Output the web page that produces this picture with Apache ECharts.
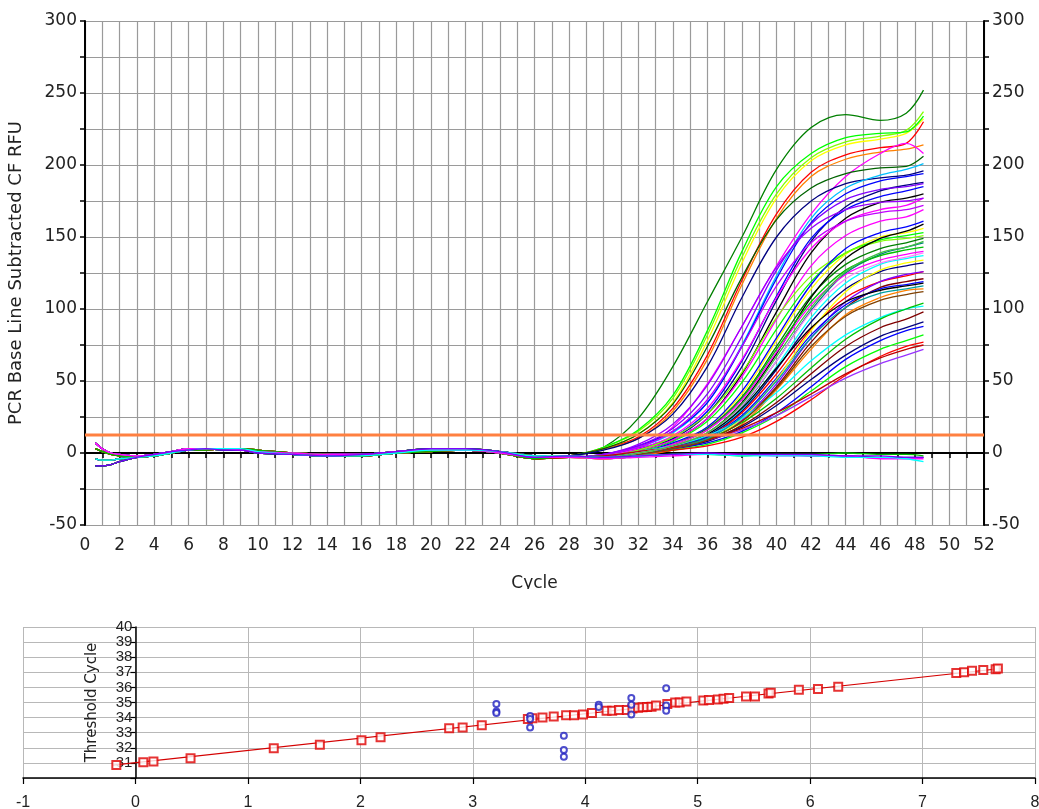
<!DOCTYPE html>
<html><head><meta charset="utf-8">
<script src="https://cdn.jsdelivr.net/npm/echarts@6/dist/echarts.min.js"></script>
<style>html,body{margin:0;padding:0;background:#fff}#c{width:1039px;height:809px}</style>
</head><body><div id="c"></div>
<script>
// ---------- Top chart: amplification curves ----------
const baseCycles = [0.6, 1, 1.5, 2, 3, 4, 5, 6, 7, 8, 9, 10, 12, 14, 16, 18, 20, 22, 24, 26];
const baseline0 = [7, 3, 0, -1, -2, -1, 1, 3, 3, 3, 2, 1, 0, -1, -1, 1, 2, 2, 0, -3];
const baseline1 = [-4, -5, -5, -4, -3, -2, 0, 2, 3, 3, 3, 1, -1, -2, -2, 0, 2, 2, 1, -2];
const baseline2 = [-9, -9, -8, -6, -3, -1, 1, 2, 3, 2, 2, 0, -1, -2, -1, 1, 3, 3, 1, -3];
const baseline3 = [3, 1, -1, -2, -3, -2, 0, 2, 2, 3, 3, 2, 0, -1, -2, 0, 1, 2, 0, -4];
const riseCycles = [28, 30, 32, 34, 36, 38, 40, 42, 44, 46, 47.5, 48.5];
const curveColors = [
  '#008000','#80ff00','#ffff00','#00ff00','#ff0000','#ff8000','#ff00ff','#006400','#000080','#00c0ff',
  '#0000ff','#000080','#0000ff','#000000','#8000ff','#ff00ff','#c000ff','#ff00ff','#9900ff','#ffff00',
  '#00ff00','#008000','#008080','#80ff00','#000000','#0000ff','#00c000','#00ffff','#ff00ff','#000080',
  '#ff0000','#800000','#8000ff','#0000ff','#ff8000','#ffff00','#000000','#00ffff','#00c000','#800000',
  '#000080','#0000ff','#00ff00','#ff0000','#9933ff','#c00000','#00a0a0','#804000','#ff80ff','#40c040',
  '#000080','#00c000','#ff00ff','#00ffff','#8000ff'
];
const curveValues = [
  [-2, 4, 24, 60, 105, 150, 197, 226, 235, 231, 236, 252],
  [-2, 4, 15, 38, 82, 136, 180, 205, 216, 220, 224, 237],
  [-2, 3, 13, 35, 78, 132, 177, 203, 214, 218, 222, 232],
  [-2, 4, 16, 40, 85, 140, 185, 208, 219, 222, 223, 234],
  [-2, 3, 11, 31, 68, 120, 166, 195, 207, 212, 215, 230],
  [-2, 3, 10, 29, 65, 117, 163, 192, 204, 209, 211, 214],
  [-3, -2, 3, 18, 48, 88, 130, 166, 192, 208, 215, 208],
  [-2, 3, 13, 34, 74, 122, 162, 184, 194, 198, 199, 206],
  [-2, 2, 10, 27, 60, 108, 150, 175, 187, 191, 193, 196],
  [-3, -2, 4, 14, 35, 75, 123, 163, 184, 193, 197, 201],
  [-3, -1, 5, 15, 35, 74, 121, 160, 180, 189, 192, 194],
  [-3, -2, 3, 10, 27, 60, 106, 147, 171, 182, 186, 188],
  [-3, -2, 3, 11, 29, 64, 109, 149, 169, 178, 182, 185],
  [-3, -2, 2, 9, 24, 55, 98, 139, 163, 174, 177, 180],
  [-3, -1, 5, 17, 41, 81, 127, 159, 176, 183, 185, 187],
  [-3, -2, 3, 12, 31, 65, 108, 142, 161, 169, 172, 177],
  [-3, -1, 4, 15, 37, 74, 116, 146, 161, 167, 169, 172],
  [-3, -2, 2, 9, 24, 53, 93, 130, 151, 161, 164, 169],
  [-3, -1, 6, 20, 47, 88, 129, 156, 169, 174, 175, 177],
  [-3, -3, 0, 6, 18, 41, 78, 114, 138, 150, 153, 156],
  [-3, -3, 1, 8, 22, 49, 86, 119, 139, 148, 151, 153],
  [-3, -3, 0, 6, 17, 39, 74, 109, 131, 142, 146, 149],
  [-3, -3, -1, 4, 13, 32, 64, 99, 125, 138, 143, 146],
  [-3, -2, 2, 11, 27, 56, 94, 123, 139, 147, 149, 151],
  [-3, -3, -1, 5, 14, 35, 69, 108, 135, 149, 154, 159],
  [-3, -3, 0, 7, 18, 43, 80, 117, 142, 153, 157, 161],
  [-3, -3, 0, 6, 16, 38, 72, 105, 127, 137, 141, 143],
  [-3, -3, -1, 4, 12, 30, 60, 94, 118, 131, 135, 137],
  [-3, -3, 0, 6, 16, 37, 70, 103, 124, 134, 138, 140],
  [-3, -3, -1, 4, 12, 29, 58, 91, 114, 126, 130, 132],
  [-3, -3, -1, 4, 11, 28, 55, 86, 108, 119, 123, 126],
  [-3, -4, -2, 2, 9, 22, 46, 77, 101, 115, 119, 121],
  [-3, -4, -2, 3, 9, 23, 48, 80, 105, 119, 124, 126],
  [-3, -3, -1, 4, 11, 26, 52, 82, 103, 114, 117, 119],
  [-3, -4, -2, 2, 8, 20, 44, 72, 96, 108, 113, 114],
  [-3, -4, -1, 3, 9, 24, 51, 85, 112, 127, 132, 134],
  [-3, -3, -1, 5, 13, 31, 59, 87, 105, 113, 116, 118],
  [-3, -2, 1, 5, 12, 24, 42, 64, 82, 94, 100, 102],
  [-3, -2, 0, 4, 10, 21, 38, 59, 79, 93, 100, 104],
  [-3, -3, 0, 4, 9, 19, 35, 55, 74, 87, 93, 98],
  [-3, -3, 0, 3, 8, 18, 33, 51, 68, 81, 87, 91],
  [-3, -3, 0, 3, 7, 15, 28, 46, 65, 78, 85, 88],
  [-3, -3, 0, 2, 6, 14, 26, 43, 60, 72, 78, 82],
  [-3, -3, -1, 2, 5, 11, 22, 37, 54, 67, 74, 77],
  [-3, -2, 1, 4, 9, 16, 26, 39, 52, 62, 68, 72],
  [-3, -2, 1, 4, 9, 17, 28, 41, 55, 66, 72, 75],
  [-3, -3, -1, 3, 10, 25, 50, 80, 101, 111, 114, 116],
  [-3, -3, -1, 3, 9, 22, 45, 74, 95, 106, 110, 112],
  [-3, -3, 0, 5, 14, 33, 64, 98, 121, 132, 136, 139],
  [-3, -3, 0, 5, 14, 34, 67, 101, 126, 139, 143, 147],
  [-2, -3, -2, -1, -1, -1, -1, -2, -2, -3, -3, -3],
  [-2, -3, -2, -1, -1, -2, -1, -1, 0, -1, -1, -2],
  [-3, -4, -3, -2, -1, -1, -2, -2, -2, -4, -4, -4],
  [-2, -3, -2, -1, -1, -2, -2, -2, -3, -3, -4, -6],
  [-2, -3, -2, -1, 0, -1, -1, -1, -2, -2, -3, -3]
];
const thresholdRFU = 12.5;
const cycleRange = [0, 52];

// ---------- Bottom chart: standard curve ----------
const stdLogQty = [-0.17, 0.07, 0.16, 0.49, 1.23, 1.64, 2.01, 2.18, 2.79, 2.91, 3.08, 3.49, 3.53, 3.62, 3.72, 3.83, 3.9, 3.98, 4.06,
  4.19, 4.24, 4.3, 4.37, 4.42, 4.47, 4.51, 4.55, 4.59, 4.63, 4.73, 4.8, 4.84, 4.9, 5.05, 5.1, 5.18, 5.23, 5.28, 5.43, 5.51,
  5.63, 5.65, 5.9, 6.07, 6.25, 7.3, 7.37, 7.44, 7.54, 7.65, 7.67];
const stdCt = [30.86, 31.05, 31.1, 31.3, 31.97, 32.2, 32.5, 32.7, 33.3, 33.35, 33.5, 33.9, 33.95, 34.0, 34.07, 34.15, 34.15, 34.2, 34.3,
  34.45, 34.45, 34.5, 34.5, 34.6, 34.65, 34.68, 34.7, 34.72, 34.8, 34.9, 35.0, 35.0, 35.06, 35.13, 35.16, 35.2, 35.25, 35.3, 35.4, 35.4,
  35.6, 35.65, 35.85, 35.9, 36.05, 36.95, 37.0, 37.1, 37.15, 37.2, 37.25];
const fitLogQty = [-0.2, 7.7];
const fitCt = [30.85, 37.25];
const unkLogQty = [3.21, 3.21, 3.21, 3.51, 3.51, 3.51, 3.81, 3.81, 3.81, 4.12, 4.12, 4.41, 4.41, 4.41, 4.72, 4.72, 4.72];
const unkCt = [34.9, 34.4, 34.3, 34.1, 33.9, 33.35, 32.8, 31.85, 31.4, 34.85, 34.7, 35.3, 34.85, 34.2, 35.95, 34.8, 34.45];

const baselines = [baseline0, baseline1, baseline2, baseline3];
const series = [];
curveValues.forEach((vals, i) => {
  const b = baselines[i % 4];
  const data = baseCycles.map((c, k) => [c, b[k]]).concat(riseCycles.map((c, k) => [c, vals[k]]));
  series.push({type: 'line', xAxisIndex: 0, yAxisIndex: 0, data, showSymbol: false, smooth: 0.35,
    lineStyle: {width: 1.3, color: curveColors[i]}, itemStyle: {color: curveColors[i]}, silent: true, z: 2});
});
series.push({type: 'line', xAxisIndex: 0, yAxisIndex: 0, data: cycleRange.map(c => [c, thresholdRFU]), showSymbol: false,
  lineStyle: {width: 3, color: '#ff8040'}, silent: true, z: 5});
series.push({type: 'line', xAxisIndex: 1, yAxisIndex: 2, data: fitLogQty.map((x, i) => [x, fitCt[i]]), showSymbol: false,
  lineStyle: {width: 1.2, color: '#d40000'}, silent: true, z: 3});
series.push({type: 'scatter', xAxisIndex: 1, yAxisIndex: 2, data: stdLogQty.map((x, i) => [x, stdCt[i]]), symbol: 'emptyRect',
  symbolSize: 8, itemStyle: {color: '#e00000', borderWidth: 1.3}, silent: true, z: 4});
series.push({type: 'scatter', xAxisIndex: 1, yAxisIndex: 2, data: unkLogQty.map((x, i) => [x, unkCt[i]]), symbol: 'emptyCircle',
  symbolSize: 6, itemStyle: {color: '#2020c0', borderWidth: 1.3}, silent: true, z: 4});

const FT = 'DejaVu Sans';
const lbl = {color: '#222', fontSize: 17, fontFamily: FT};
const bottomLeft = 23, bottomRight = 4, bottomXMin = -1, bottomXMax = 8;
const bottomAxisShift = (1039 - bottomLeft - bottomRight) * (0 - bottomXMin) / (bottomXMax - bottomXMin);
const chart = echarts.init(document.getElementById('c'), null, {renderer: 'canvas'});
chart.setOption({
  animation: false,
  backgroundColor: '#fff',
  grid: [
    {left: 85, right: 55, top: 21, height: 504, containLabel: false, outerBoundsMode: 'none'},
    {left: bottomLeft, right: bottomRight, top: 627, height: 151, containLabel: false, outerBoundsMode: 'none'}
  ],
  xAxis: [
    {type: 'value', gridIndex: 0, min: 0, max: 52, interval: 1,
      axisLine: {show: true, lineStyle: {color: '#000', width: 2}},
      axisTick: {show: true, length: 5, lineStyle: {color: '#000', width: 1.5}},
      axisLabel: Object.assign({margin: 12, formatter: v => (v % 2 === 0 ? String(v) : '')}, lbl),
      splitLine: {show: true, lineStyle: {color: '#9a9a9a', width: 1.2}},
      name: 'Cycle', nameLocation: 'middle', nameGap: 50, nameTextStyle: {color: '#222', fontSize: 17, fontFamily: FT}},
    {type: 'value', gridIndex: 1, min: bottomXMin, max: bottomXMax, interval: 1,
      axisLine: {show: true, onZero: false, lineStyle: {color: '#000', width: 1.5}},
      axisTick: {show: true, length: 6, lineStyle: {color: '#000', width: 1.2}},
      axisLabel: {margin: 17, color: '#222', fontSize: 16, fontFamily: 'Liberation Sans', showMinLabel: true, showMaxLabel: true},
      splitLine: {show: true, lineStyle: {color: '#b8b8b8', width: 1}}}
  ],
  yAxis: [
    {type: 'value', gridIndex: 0, min: -50, max: 300, interval: 25,
      axisLine: {show: true, onZero: false, lineStyle: {color: '#000', width: 2}},
      axisTick: {show: true, length: 5, lineStyle: {color: '#000', width: 1.5}},
      axisLabel: Object.assign({margin: 8, formatter: v => (v % 50 === 0 ? String(v) : '')}, lbl),
      splitLine: {show: true, lineStyle: {color: '#9a9a9a', width: 1.2}},
      name: 'PCR Base Line Subtracted CF RFU', nameLocation: 'middle', nameGap: 60, nameRotate: 90,
      nameTextStyle: {color: '#222', fontSize: 18, fontFamily: FT}},
    {type: 'value', gridIndex: 0, position: 'right', min: -50, max: 300, interval: 25,
      axisLine: {show: true, onZero: false, lineStyle: {color: '#000', width: 2}},
      axisTick: {show: true, length: 5, lineStyle: {color: '#000', width: 1.5}},
      axisLabel: Object.assign({margin: 8, formatter: v => (v % 50 === 0 ? String(v) : '')}, lbl),
      splitLine: {show: false}},
    {type: 'value', gridIndex: 1, min: 30, max: 40, interval: 1, position: 'left', offset: -bottomAxisShift,
      axisLine: {show: true, onZero: false, lineStyle: {color: '#000', width: 1.5}},
      axisTick: {show: true, length: 5, lineStyle: {color: '#000', width: 1.2}},
      axisLabel: {margin: 3, color: '#222', fontSize: 15, lineHeight: 13, fontFamily: 'Liberation Sans', showMaxLabel: true,
        hideOverlap: false, formatter: v => (v === 30 ? '' : String(v))},
      splitLine: {show: true, lineStyle: {color: '#b8b8b8', width: 1}},
      name: 'Threshold Cycle', nameLocation: 'middle', nameGap: 36, nameRotate: 90, nameMoveOverlap: false,
      nameTextStyle: {color: '#222', fontSize: 15, fontFamily: FT}}
  ],
  graphic: [{type: 'rect', left: 0, top: 589, shape: {width: 1039, height: 30}, style: {fill: '#fff'}, z: 100}],
  series
});
</script></body></html>
